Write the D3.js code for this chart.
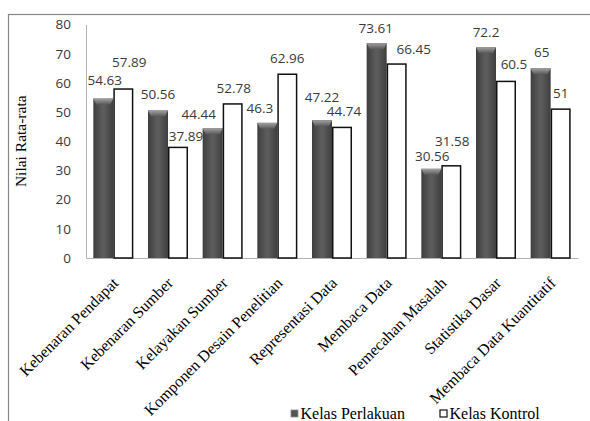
<!DOCTYPE html>
<html>
<head>
<meta charset="utf-8">
<script src="https://cdn.jsdelivr.net/npm/d3@7"></script>
<style>
  html, body { margin: 0; padding: 0; background: #fff; }
  svg { display: block; }
</style>
</head>
<body>
<div id="chart"></div>
<script>
// Skor rata-rata tiap indikator untuk kelas perlakuan dan kelas kontrol
const categories = [
  "Kebenaran Pendapat", "Kebenaran Sumber", "Kelayakan Sumber",
  "Komponen Desain Penelitian", "Representasi Data", "Membaca Data",
  "Pemecahan Masalah", "Statistika Dasar", "Membaca Data Kuantitatif"
];
const seriesNames = ["Kelas Perlakuan", "Kelas Kontrol"];
const perlakuan = [54.63, 50.56, 44.44, 46.3, 47.22, 73.61, 30.56, 72.2, 65];
const kontrol   = [57.89, 37.89, 52.78, 62.96, 44.74, 66.45, 31.58, 60.5, 51];
const yTicks = [0, 10, 20, 30, 40, 50, 60, 70, 80];
const yTitle = "Nilai Rata-rata";

// Hand-placed nudges for the value labels (dx from bar centre, gap above bar top)
const labelDx = [
  [1.5, 0, -14, -7.5, 0, -1, 1, 0, 1],
  [6, 8, 1, 0, 2, 17, 1, 8, 0]
];
const labelGap = [
  [14, 11, 9, 10, 18.5, 10.4, 8, 10.5, 11],
  [22, 6, 10.5, 11.5, 11.5, 10, 20, 12, 11]
];

const W = 590, H = 421;
const svg = d3.select("#chart").append("svg").attr("width", W).attr("height", H);

const defs = svg.append("defs");
const body = defs.append("linearGradient").attr("id", "darkBody")
  .attr("x1", 0).attr("x2", 1).attr("y1", 0).attr("y2", 0);
body.append("stop").attr("offset", "0%").attr("stop-color", "#3e3e3e");
body.append("stop").attr("offset", "45%").attr("stop-color", "#5c5c5c");
body.append("stop").attr("offset", "55%").attr("stop-color", "#5c5c5c");
body.append("stop").attr("offset", "100%").attr("stop-color", "#3e3e3e");
const cap = defs.append("linearGradient").attr("id", "darkCap")
  .attr("x1", 0).attr("x2", 0).attr("y1", 0).attr("y2", 1);
cap.append("stop").attr("offset", "0%").attr("stop-color", "#a2a2a2");
cap.append("stop").attr("offset", "100%").attr("stop-color", "#585858");

// Outer chart frame
svg.append("rect")
  .attr("x", 8.5).attr("y", 14.5).attr("width", 600).attr("height", 430)
  .attr("fill", "none").attr("stroke", "#878787").attr("stroke-width", 1.2);

const plotLeft = 86, plotRight = 578, plotTop = 24.5, plotBottom = 258;

const x0 = d3.scaleBand().domain(categories).range([plotLeft, plotRight])
  .paddingInner(0.268).paddingOuter(0.134);
const x1 = d3.scaleBand().domain(seriesNames).range([0, x0.bandwidth()]);
const y = d3.scaleLinear().domain([0, 80]).range([plotBottom, plotTop]);

// Y axis
const yAxis = svg.append("g").attr("transform", `translate(${plotLeft},0)`)
  .call(d3.axisLeft(y).tickValues(yTicks).tickSize(0).tickSizeOuter(0).tickPadding(15));
yAxis.select(".domain").attr("stroke", "#b3b3b3").attr("stroke-width", 1);
yAxis.selectAll("text")
  .attr("font-family", "'Open Sans', sans-serif").attr("font-size", "13.5px")
  .attr("fill", "#3a3a3a");

// X axis with rotated category labels
const xAxis = svg.append("g").attr("transform", `translate(0,${plotBottom})`)
  .call(d3.axisBottom(x0).tickSize(0).tickSizeOuter(0));
xAxis.select(".domain").attr("stroke", "#b3b3b3").attr("stroke-width", 1);
xAxis.selectAll("text")
  .attr("x", 0).attr("y", 0).attr("dy", 0)
  .attr("transform", "translate(6,26) rotate(-45)")
  .attr("text-anchor", "end")
  .attr("font-family", "'Liberation Serif', 'Times New Roman', serif")
  .attr("font-size", "16px").attr("fill", "#000");

// Bars
const rows = categories.map((c, i) => ({ c, i, v: [perlakuan[i], kontrol[i]] }));
const groups = svg.append("g").selectAll("g").data(rows).join("g")
  .attr("transform", d => `translate(${x0(d.c)},0)`);

// dark bars (Kelas Perlakuan)
groups.append("rect")
  .attr("x", x1(seriesNames[0])).attr("width", x1.bandwidth())
  .attr("y", d => y(d.v[0])).attr("height", d => plotBottom - y(d.v[0]))
  .attr("fill", "url(#darkBody)");
groups.append("path")
  .attr("d", d => {
    const xa = x1(seriesNames[0]), w = x1.bandwidth(), yt = y(d.v[0]), h = 6;
    return `M${xa},${yt} L${xa + w},${yt} L${xa + w - 3},${yt + h} L${xa + 3},${yt + h} Z`;
  })
  .attr("fill", "url(#darkCap)");

// white bars (Kelas Kontrol)
groups.append("rect")
  .attr("x", x1(seriesNames[1]) + 0.75).attr("width", x1.bandwidth() - 1.5)
  .attr("y", d => y(d.v[1])).attr("height", d => plotBottom - y(d.v[1]))
  .attr("fill", "#fff").attr("stroke", "#111").attr("stroke-width", 1.5);

// Value labels
[0, 1].forEach(s => {
  groups.append("text")
    .attr("x", d => x1(seriesNames[s]) + x1.bandwidth() / 2 + labelDx[s][d.i])
    .attr("y", d => y(d.v[s]) - labelGap[s][d.i])
    .attr("text-anchor", "middle")
    .attr("font-family", "'Open Sans', sans-serif").attr("font-size", "13.5px")
    .attr("fill", "#3a3a3a")
    .text(d => d.v[s]);
});

// Y axis title
svg.append("text")
  .attr("transform", `translate(26,${(plotTop + plotBottom) / 2}) rotate(-90)`)
  .attr("text-anchor", "middle")
  .attr("font-family", "'Liberation Serif', 'Times New Roman', serif")
  .attr("font-size", "15.5px").attr("fill", "#000")
  .text(yTitle);

// Legend
const legend = svg.append("g");
const legendX = [291, 440];
seriesNames.forEach((name, s) => {
  const g = legend.append("g").attr("transform", `translate(${legendX[s]},410)`);
  g.append("rect").attr("x", 0).attr("y", 0).attr("width", 7).attr("height", 7)
    .attr("fill", s === 0 ? "#555" : "#fff")
    .attr("stroke", s === 0 ? "#8a8a8a" : "#111").attr("stroke-width", s === 0 ? 0.8 : 1.2);
  g.append("text").attr("x", 9.5).attr("y", 8.5)
    .attr("font-family", "'Liberation Serif', 'Times New Roman', serif")
    .attr("font-size", "16px").attr("fill", "#000")
    .text(name);
});
</script>
</body>
</html>
